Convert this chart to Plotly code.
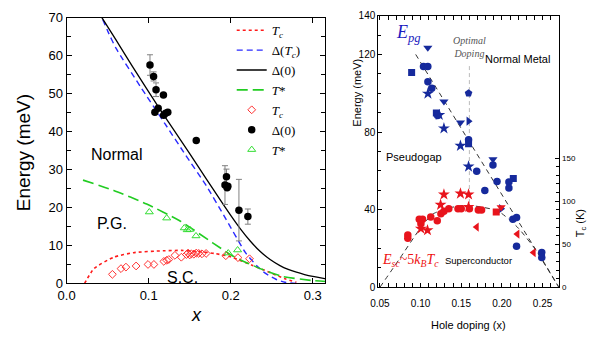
import plotly.graph_objects as go

# ================= LEFT PANEL DATA =================
# model curves
tc_line_x = [0.022, 0.0334, 0.0574, 0.0815, 0.1177, 0.140, 0.160, 0.180, 0.200, 0.226, 0.250, 0.265, 0.280]
tc_line_y = [0.0, 3.9, 6.9, 8.1, 8.6, 8.7, 8.4, 7.9, 7.0, 4.8, 2.7, 1.3, 0.3]

dtc_line_x = [0.044, 0.050, 0.060, 0.090, 0.120, 0.145, 0.170, 0.194, 0.218, 0.232, 0.242, 0.255, 0.266, 0.280]
dtc_line_y = [69.5, 66.5, 62.0, 51.8, 42.0, 33.8, 25.8, 17.0, 8.1, 4.6, 2.7, 1.1, 0.3, 0.0]

d0_line_x = [0.043, 0.060, 0.080, 0.1136, 0.150, 0.170, 0.186, 0.200, 0.212, 0.224, 0.236, 0.248,
             0.260, 0.270, 0.280, 0.290, 0.300, 0.316]
d0_line_y = [70.0, 64.2, 57.2, 45.9, 34.2, 27.6, 22.4, 17.9, 14.3, 11.1, 8.4, 6.3,
             4.7, 3.7, 2.95, 2.35, 1.85, 1.2]

tstar_line_x = [0.020, 0.0574, 0.0976, 0.1378, 0.178, 0.202, 0.220, 0.236, 0.262, 0.298, 0.316]
tstar_line_y = [27.2, 24.5, 20.9, 16.5, 10.7, 7.3, 5.4, 3.9, 1.9, 0.8, 0.5]

# experimental points
tc_pts_x = [0.0558, 0.0663, 0.0723, 0.0847, 0.0992, 0.1064, 0.1185, 0.122, 0.1245, 0.132, 0.1398,
            0.146, 0.148, 0.150, 0.152, 0.155, 0.158, 0.161, 0.165, 0.170, 0.194, 0.2088, 0.2229]
tc_pts_y = [2.4, 3.9, 4.3, 4.6, 5.0, 5.0, 5.8, 6.1, 6.3, 7.4, 6.9,
            7.6, 8.0, 7.5, 7.8, 7.7, 8.0, 7.9, 7.8, 7.9, 7.3, 6.8, 6.5]

d0_pts_x = [0.1016, 0.106, 0.109, 0.118, 0.1076, 0.1116, 0.1183, 0.1207, 0.1233, 0.158,
            0.193, 0.1948, 0.1956, 0.1965, 0.210, 0.2209]
d0_pts_y = [57.5, 54.5, 51.0, 49.6, 45.1, 46.1, 44.3, 44.8, 45.1, 37.6,
            25.9, 28.1, 25.2, 25.6, 19.3, 17.6]
d0_pts_err = [2.7, 1.2, 1.8, 0, 0, 0, 0, 0, 0, 0,
              5.1, 2.0, 0, 0, 8.1, 2.0]

tstar_pts_x = [0.1008, 0.122, 0.1434, 0.147, 0.150, 0.1577, 0.197, 0.2084]
tstar_pts_y = [18.8, 17.2, 14.6, 14.1, 14.2, 12.5, 8.0, 8.8]

# ================= RIGHT PANEL DATA =================
pg_line_x = [0.094, 0.270]
pg_line_y = [120.0, 0.0]
sc_line_x = [0.050, 0.074, 0.098, 0.1145, 0.135, 0.159, 0.195, 0.219, 0.244, 0.270]
sc_line_y = [0.0, 14.6, 29.4, 37.6, 40.9, 42.2, 39.3, 31.0, 17.9, 0.0]
opt_x = [0.16, 0.16]
opt_y = [114, 40]

# blue (pseudogap energy) points by symbol
pg_square_x = [0.089, 0.1194, 0.159, 0.214]
pg_square_y = [110.7, 89.8, 74.0, 56.0]
pg_circle_x = [0.1036, 0.1089, 0.109, 0.1137, 0.1210, 0.159, 0.169, 0.179, 0.189, 0.194,
               0.2086, 0.2086, 0.2135, 0.218, 0.218, 0.249, 0.249]
pg_circle_y = [113.8, 113.8, 105.9, 102.6, 88.5, 76.0, 59.8, 49.9, 63.0, 54.5,
               54.3, 51.1, 35.1, 36.0, 21.2, 17.9, 15.4]
pg_tridown_x = [0.1089, 0.1287, 0.149, 0.189]
pg_tridown_y = [123.5, 95.7, 84.9, 66.0]
pg_star_x = [0.109, 0.123, 0.1287, 0.149, 0.159]
pg_star_y = [99.8, 88.8, 81.9, 72.9, 62.2]
pg_triright_x = [0.159, 0.199]
pg_triright_y = [85.6, 40.5]
pg_penta_x = [0.159]
pg_penta_y = [100.0]

# red (superconducting energy) points by symbol
sc_circle_x = [0.0843, 0.0843, 0.0984, 0.1024, 0.1004, 0.1125, 0.1205, 0.125, 0.1287, 0.1347,
               0.146, 0.150, 0.160, 0.171, 0.175]
sc_circle_y = [26.9, 25.3, 35.1, 35.1, 32.7, 36.2, 34.3, 37.9, 39.2, 40.4,
               40.4, 40.4, 40.4, 39.8, 39.8]
sc_star_x = [0.1004, 0.1085, 0.1246, 0.1287, 0.149, 0.159, 0.159]
sc_star_y = [30.2, 29.4, 42.5, 47.8, 48.3, 47.8, 41.4]
sc_square_x = [0.193]
sc_square_y = [38.8]
sc_tridown_x = [0.199]
sc_tridown_y = [41.2]
sc_trileft_x = [0.169, 0.219, 0.239]
sc_trileft_y = [31.0, 27.4, 17.9]

fig = go.Figure()

SANS = "Liberation Sans, Arial, sans-serif"
SERIF = "Liberation Serif, Times New Roman, serif"
NARROW = "Liberation Sans Narrow, Arial Narrow, Liberation Sans, sans-serif"

# ---- left panel traces ----
fig.add_trace(go.Scatter(x=tc_line_x, y=tc_line_y, mode="lines", name="<i>T</i><sub><i>c</i></sub>",
                         line=dict(color="#ff1a1a", dash="dot", width=1.6, shape="spline", smoothing=0.6),
                         xaxis="x", yaxis="y"))
fig.add_trace(go.Scatter(x=dtc_line_x, y=dtc_line_y, mode="lines", name="Δ(<i>T</i><sub><i>c</i></sub>)",
                         line=dict(color="#2a2aff", dash="6px,4px", width=1.4, shape="spline", smoothing=0.5),
                         xaxis="x", yaxis="y"))
fig.add_trace(go.Scatter(x=d0_line_x, y=d0_line_y, mode="lines", name="Δ(0)",
                         line=dict(color="black", width=1.3, shape="spline", smoothing=0.5),
                         xaxis="x", yaxis="y"))
fig.add_trace(go.Scatter(x=tstar_line_x, y=tstar_line_y, mode="lines", name="<i>T</i>*",
                         line=dict(color="#22cc22", dash="11px,5px", width=1.6, shape="spline", smoothing=0.6),
                         xaxis="x", yaxis="y"))
fig.add_trace(go.Scatter(x=tc_pts_x, y=tc_pts_y, mode="markers", name="<i>T</i><sub><i>c</i></sub>",
                         marker=dict(symbol="diamond-open", size=6, color="#ff3030", line=dict(width=1)),
                         xaxis="x", yaxis="y"))
# error bars (no legend)
fig.add_trace(go.Scatter(x=d0_pts_x, y=d0_pts_y, mode="markers", showlegend=False,
                         marker=dict(size=1, opacity=0),
                         error_y=dict(type="data", array=d0_pts_err, visible=True,
                                      color="#808080", thickness=1, width=3),
                         xaxis="x", yaxis="y", hoverinfo="skip"))
fig.add_trace(go.Scatter(x=d0_pts_x, y=d0_pts_y, mode="markers", name="Δ(0)",
                         marker=dict(symbol="circle", size=7.5, color="black"),
                         xaxis="x", yaxis="y"))
fig.add_trace(go.Scatter(x=tstar_pts_x, y=tstar_pts_y, mode="markers", name="<i>T</i>*",
                         marker=dict(symbol="triangle-up-open", size=7, color="#33dd33", line=dict(width=1)),
                         xaxis="x", yaxis="y"))

# ---- right panel traces ----
fig.add_trace(go.Scatter(x=pg_line_x, y=pg_line_y, mode="lines", showlegend=False,
                         line=dict(color="#333333", dash="5px,4px", width=1),
                         xaxis="x2", yaxis="y2"))
fig.add_trace(go.Scatter(x=sc_line_x, y=sc_line_y, mode="lines", showlegend=False,
                         line=dict(color="#333333", dash="5px,4px", width=1, shape="spline", smoothing=0.6),
                         xaxis="x2", yaxis="y2"))
fig.add_trace(go.Scatter(x=opt_x, y=opt_y, mode="lines", showlegend=False,
                         line=dict(color="#bbbbbb", dash="4px,3px", width=1),
                         xaxis="x2", yaxis="y2"))

BLUE = "#162a9c"
RED = "#e8141c"
blue_groups = [(pg_square_x, pg_square_y, "square", 7), (pg_circle_x, pg_circle_y, "circle", 7.5),
               (pg_tridown_x, pg_tridown_y, "triangle-down", 8), (pg_star_x, pg_star_y, "star", 9),
               (pg_triright_x, pg_triright_y, "triangle-right", 8), (pg_penta_x, pg_penta_y, "pentagon", 8)]
for gx, gy, sym, sz in blue_groups:
    fig.add_trace(go.Scatter(x=gx, y=gy, mode="markers", showlegend=False,
                             marker=dict(symbol=sym, size=sz, color=BLUE),
                             xaxis="x2", yaxis="y2"))
red_groups = [(sc_circle_x, sc_circle_y, "circle", 7.5), (sc_star_x, sc_star_y, "star", 9),
              (sc_square_x, sc_square_y, "square", 7), (sc_tridown_x, sc_tridown_y, "triangle-down", 8),
              (sc_trileft_x, sc_trileft_y, "triangle-left", 8)]
for gx, gy, sym, sz in red_groups:
    fig.add_trace(go.Scatter(x=gx, y=gy, mode="markers", showlegend=False,
                             marker=dict(symbol=sym, size=sz, color=RED),
                             xaxis="x2", yaxis="y2"))

axis_common = dict(showline=True, linecolor="black", linewidth=1, ticks="inside",
                   tickcolor="black", showgrid=False, zeroline=False)

fig.update_layout(
    width=589, height=345,
    margin=dict(l=0, r=0, t=0, b=0),
    paper_bgcolor="white", plot_bgcolor="white",
    showlegend=True,
    legend=dict(x=0.384, y=0.975, xanchor="left", yanchor="top", bgcolor="rgba(0,0,0,0)",
                font=dict(family=SERIF, size=13, color="black"), tracegroupgap=0),
    xaxis=dict(domain=[0.0993, 0.545], range=[0, 0.315], tickvals=[0, 0.1, 0.2, 0.3],
               ticktext=["0.0", "0.1", "0.2", "0.3"], mirror="ticks", ticklen=5,
               tickfont=dict(family=SANS, size=13, color="black"), anchor="y", **axis_common),
    yaxis=dict(domain=[0.1623, 0.968], range=[0, 70], dtick=10, mirror="ticks", ticklen=5,
               minor=dict(dtick=5, ticks="inside", ticklen=4, tickcolor="black"),
               tickfont=dict(family=SANS, size=13, color="black"), anchor="x", **axis_common),
    xaxis2=dict(domain=[0.6367, 0.949], range=[0.048, 0.2707],
                tickvals=[0.05, 0.10, 0.15, 0.20, 0.25], ticktext=["0.05", "0.10", "0.15", "0.20", "0.25"],
                mirror="allticks", ticklen=4, ticklabelstandoff=7,
                minor=dict(dtick=0.01, tick0=0.05, ticks="inside", ticklen=3, tickcolor="black"),
                tickfont=dict(family=NARROW, size=10, color="black"), anchor="y2", **axis_common),
    yaxis2=dict(domain=[0.1507, 0.9739], range=[0, 140], tickvals=[0, 40, 80, 120, 140],
                ticklen=4, minor=dict(dtick=10, ticks="inside", ticklen=3, tickcolor="black"),
                tickfont=dict(family=NARROW, size=10, color="black"), anchor="x2", **axis_common),
    yaxis3=dict(domain=[0.1507, 0.9739], range=[0, 315.6], overlaying="y2", side="right",
                tickvals=[0, 50, 100, 150], ticklen=4,
                minor=dict(tickvals=[10, 20, 30, 40, 60, 70, 80, 90, 110, 120, 130, 140],
                           ticks="inside", ticklen=3, tickcolor="black"),
                tickfont=dict(family=NARROW, size=8, color="black"), anchor="x2", **axis_common),
)

# dummy trace to activate yaxis3
fig.add_trace(go.Scatter(x=[None], y=[None], xaxis="x2", yaxis="y3", showlegend=False))

C = dict(xanchor="center", yanchor="middle", showarrow=False)
ann = []
# left panel labels
ann += [
    dict(text="Normal", x=0.0614, y=34, xref="x", yref="y",
         font=dict(family=SANS, size=16, color="black"), **C),
    dict(text="P.G.", x=0.0554, y=15.9, xref="x", yref="y",
         font=dict(family=SANS, size=16, color="black"), **C),
    dict(text="S.C.", x=0.1418, y=1.6, xref="x", yref="y",
         font=dict(family=SANS, size=16, color="black"), **C),
    dict(text="Energy (meV)", x=15 / 589, y=(345 - 152) / 345, xref="paper", yref="paper",
         textangle=-90, font=dict(family=SANS, size=19, color="black"), **C),
    dict(text="<i>x</i>", x=190 / 589, y=(345 - 322) / 345, xref="paper", yref="paper",
         font=dict(family=SANS, size=18, color="black"), **C),
]
# right panel labels
ann += [
    dict(text="<i>E</i><sub><i>pg</i></sub>", x=0.067, y=131, xref="x2", yref="y2", xanchor="left",
         yanchor="middle", showarrow=False, font=dict(family=SERIF, size=18, color="#1c1cc0")),
    dict(text="<i>E</i><sub><i>sc</i></sub>~5<i>k</i><sub><i>B</i></sub><i>T</i><sub><i>c</i></sub>",
         x=0.0505, y=14, xref="x2", yref="y2", xanchor="left", yanchor="middle",
         showarrow=False, font=dict(family=SERIF, size=14, color="#ee1111")),
    dict(text="<i>Optimal</i><br><i>Doping</i>", x=0.16, y=124, xref="x2", yref="y2",
         font=dict(family=SERIF, size=10, color="#555555"), **C),
    dict(text="Normal Metal", x=0.2194, y=117.7, xref="x2", yref="y2",
         font=dict(family=NARROW, size=11, color="black"), **C),
    dict(text="Pseudogap", x=0.092, y=67, xref="x2", yref="y2",
         font=dict(family=NARROW, size=11, color="black"), **C),
    dict(text="Superconductor", x=0.171, y=13.8, xref="x2", yref="y2",
         font=dict(family=NARROW, size=9.5, color="black"), **C),
    dict(text="Energy (meV)", x=353 / 589, y=(345 - 90) / 345, xref="paper", yref="paper",
         textangle=-90, font=dict(family=NARROW, size=11, color="black"), **C),
    dict(text="T<sub>c</sub> (K)", x=581 / 589, y=(345 - 226) / 345, xref="paper", yref="paper",
         textangle=-90, font=dict(family=NARROW, size=11, color="black"), **C),
    dict(text="Hole doping (x)", x=467 / 589, y=(345 - 332) / 345, xref="paper", yref="paper",
         font=dict(family=NARROW, size=11, color="black"), **C),
]
fig.update_layout(annotations=ann)

fig.write_html("out.html", config={"displayModeBar": False},
               post_script="document.body.style.margin='0';")
